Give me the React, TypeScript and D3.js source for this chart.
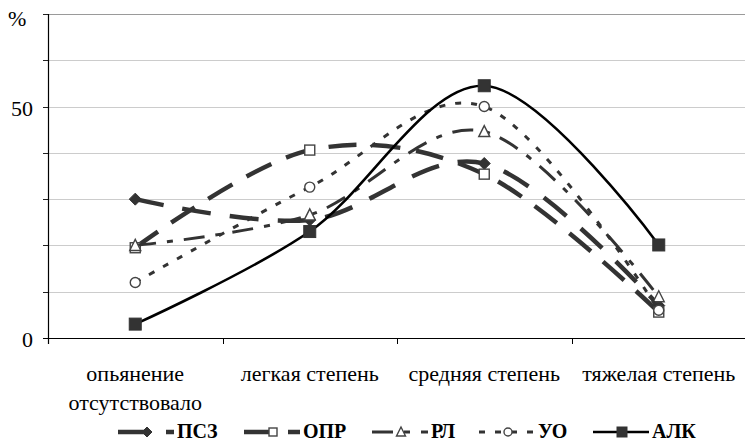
import React from "react";
import * as d3 from "d3";

const categoryLines: string[][] = [
  ["опьянение", "отсутствовало"],
  ["легкая степень"],
  ["средняя степень"],
  ["тяжелая степень"],
];
const seriesNames = ["ПСЗ", "ОПР", "РЛ", "УО", "АЛК"];
const pszValues = [30, 25.5, 37.7, 7];
const oprValues = [19.5, 40.6, 35.4, 5.6];
const rlValues = [20, 26.6, 44.6, 8.9];
const uoValues = [12, 32.6, 50, 6];
const alkValues = [3, 23, 54.5, 20.1];
const yTickLabels = [0, 50];
const yMax = 70;
const yStep = 10;

const W = 745;
const H = 443;
const plot = { left: 48, right: 746, top: 14, bottom: 338 };

type Style = { dash: string; width: number; color: string; marker: string };
const styles: Style[] = [
  { dash: "29,19", width: 4.5, color: "#333333", marker: "diamond" },
  { dash: "28,16", width: 4.5, color: "#333333", marker: "squareOpen" },
  { dash: "21,11,6,11", width: 3, color: "#333333", marker: "triangleOpen" },
  { dash: "6,10", width: 3, color: "#333333", marker: "circleOpen" },
  { dash: "", width: 2.6, color: "#000000", marker: "squareFilled" },
];

const FONT = "'Liberation Serif', 'Times New Roman', serif";

function Marker({ kind, x, y, s }: { kind: string; x: number; y: number; s: number }) {
  const h = s / 2;
  if (kind === "diamond")
    return <path d={`M${x},${y - h - 1}L${x + h + 1},${y}L${x},${y + h + 1}L${x - h - 1},${y}Z`} fill="#333" stroke="#333" strokeWidth={1} />;
  if (kind === "squareOpen")
    return <rect x={x - h} y={y - h} width={s} height={s} fill="#fff" stroke="#444" strokeWidth={1.4} />;
  if (kind === "triangleOpen")
    return <path d={`M${x},${y - h - 1}L${x + h + 0.5},${y + h}L${x - h - 0.5},${y + h}Z`} fill="#fff" stroke="#444" strokeWidth={1.4} />;
  if (kind === "circleOpen")
    return <circle cx={x} cy={y} r={h} fill="#fff" stroke="#444" strokeWidth={1.4} />;
  return <rect x={x - h - 1} y={y - h - 1} width={s + 2} height={s + 2} fill="#333" stroke="#333" strokeWidth={1} />;
}

export default function App() {
  const allSeries = [pszValues, oprValues, rlValues, uoValues, alkValues];
  const x = d3
    .scaleBand<number>()
    .domain(d3.range(categoryLines.length))
    .range([plot.left, plot.right]);
  const y = d3.scaleLinear().domain([0, yMax]).range([plot.bottom, plot.top]);
  const cx = (i: number) => (x(i) as number) + x.bandwidth() / 2;
  const line = d3
    .line<number>()
    .x((_, i) => cx(i))
    .y((d) => y(d))
    .curve(d3.curveCardinal.tension(0));
  const grid = d3.range(yStep, yMax + 0.001, yStep);
  const ticks = d3.range(0, yMax + 0.001, yStep);
  const legendX = [118, 244, 372, 479, 593];
  const legendY = 432;
  const ts = { fontFamily: FONT };

  return (
    <svg width={W} height={H} style={{ position: "absolute", left: 0, top: 0, background: "#fff", fontFamily: FONT }}>
      <rect width={W} height={H} fill="#fff" />
      {grid.map((g) => (
        <line key={g} x1={plot.left} x2={plot.right} y1={Math.round(y(g)) + 0.5} y2={Math.round(y(g)) + 0.5}
          stroke={g === yMax ? "#9a9a9a" : "#cccccc"} strokeWidth={1} />
      ))}
      {ticks.map((t) => (
        <line key={t} x1={43} x2={plot.left} y1={Math.round(y(t)) + 0.5} y2={Math.round(y(t)) + 0.5} stroke="#222" strokeWidth={1} />
      ))}
      <line x1={plot.left + 0.5} x2={plot.left + 0.5} y1={plot.top} y2={plot.bottom + 6} stroke="#000" strokeWidth={1.2} />
      <line x1={43} x2={W} y1={plot.bottom + 0.5} y2={plot.bottom + 0.5} stroke="#000" strokeWidth={1.2} />
      {d3.range(1, categoryLines.length).map((i) => (
        <line key={i} x1={Math.round(x(i) as number) + 0.5} x2={Math.round(x(i) as number) + 0.5} y1={plot.bottom} y2={plot.bottom + 6} stroke="#000" strokeWidth={1} />
      ))}
      {yTickLabels.map((t) => (
        <text key={t} x={33} y={y(t) + 9} textAnchor="end" fontSize={22} fill="#000" style={ts}>{t}</text>
      ))}
      <text x={8} y={26} fontSize={22} fill="#000" style={ts}>%</text>
      {categoryLines.map((lines, i) => (
        <text key={i} textAnchor="middle" fontSize={22} fill="#000" style={ts}>
          {lines.map((l, j) => (
            <tspan key={j} x={cx(i)} y={381 + j * 29}>{l}</tspan>
          ))}
        </text>
      ))}
      {allSeries.map((vals, si) => {
        const st = styles[si];
        return (
          <g key={si}>
            <path d={line(vals) || ""} fill="none" stroke={st.color} strokeWidth={st.width} strokeDasharray={st.dash || undefined} />
            {vals.map((v, i) => (
              <Marker key={i} kind={st.marker} x={cx(i)} y={y(v)} s={10} />
            ))}
          </g>
        );
      })}
      {seriesNames.map((name, si) => {
        const st = styles[si];
        const x0 = legendX[si];
        return (
          <g key={name}>
            <line x1={x0} x2={x0 + 56} y1={legendY} y2={legendY} stroke={st.color} strokeWidth={st.width} strokeDasharray={st.dash || undefined} />
            <Marker kind={st.marker} x={x0 + 29} y={legendY} s={8} />
            <text x={x0 + 59} y={legendY + 6} fontSize={20} fontWeight="bold" fill="#000" style={ts}>{name}</text>
          </g>
        );
      })}
    </svg>
  );
}
